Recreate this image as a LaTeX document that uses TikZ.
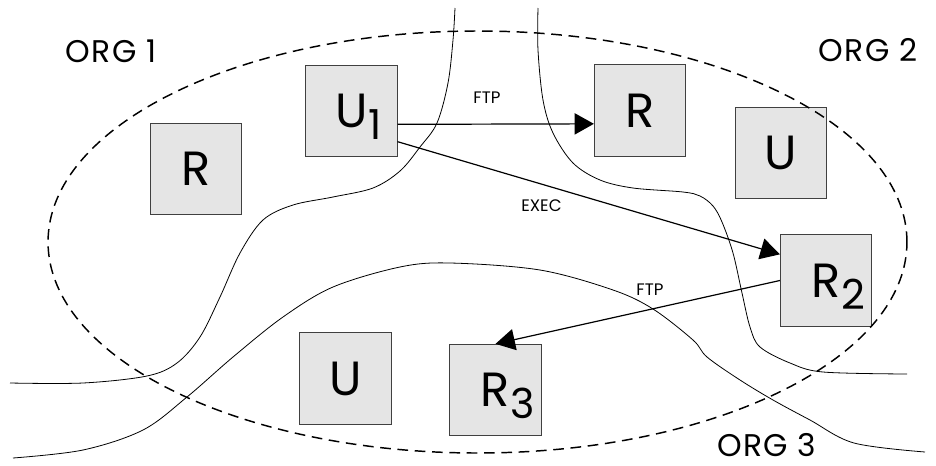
\documentclass[tikz,border=0pt]{standalone}
\usepackage{fontspec}
\setmainfont{Poppins}
\usetikzlibrary{arrows.meta}
% lowered, slightly smaller index after a host letter
\newcommand\hostsub[1]{\rlap{\smash{\kern0.5pt\raisebox{-9pt}{\fontsize{31}{31}\selectfont #1}}}}
\begin{document}
\begin{tikzpicture}[x=0.75pt,y=-0.75pt,
  host/.style={draw=black!75, fill=black!10, line width=0.6pt,
    minimum width=68.6pt, minimum height=68.6pt, inner sep=0pt,
    font=\fontsize{36}{36}\selectfont},
  org/.style={inner sep=0pt, font=\fontsize{23.5}{23.5}\selectfont\addfontfeature{LetterSpace=4}},
  proto/.style={font=\fontsize{12.5}{12.5}\selectfont},
  border/.style={line width=0.6pt},
  call/.style={line width=0.9pt, -{Triangle[length=14.5pt,width=16pt]}},
  zone/.style={line width=1.1pt, dash pattern=on 8pt off 5pt}]
\useasboundingbox (0,0) rectangle (936,465);

% hosts
\node[host] (rl) at (196,169)   {R};
\node[host] (u1) at (351.4,111) {U\hostsub{1}};
\node[host] (ro) at (640,110.5) {R};
\node[host] (uo) at (781,153)   {U};
\node[host] (r2) at (826,280.5) {R\hostsub{2}};
\node[host] (ub) at (345.6,378.5) {U};
\node[host] (r3) at (495.5,390) {R\hostsub{3}};

% organisation boundaries
\draw[border] plot[smooth, tension=0.55] coordinates {
  (10,383) (83,383) (147,376) (177,363) (200,337) (220,297) (240,253)
  (263,220) (293,205) (333,197) (373,188) (400,171) (420,147) (437,123)
  (448,83) (453,40) (455,8)};
\draw[border] plot[smooth, tension=0.55] coordinates {
  (538,8) (538,50) (543,100) (553,133) (573,163) (600,180) (633,188)
  (683,192) (700,196) (713,206) (722,222) (733,253) (742,293) (750,327)
  (760,347) (790,363) (823,372) (907,374)};
\draw[border] plot[smooth, tension=0.55] coordinates {
  (13,458) (83,450) (143,430) (187,397) (233,357) (283,317) (333,287)
  (400,267) (450,263) (540,270) (613,290) (653,309) (693,340) (707,357)
  (740,380) (773,400) (810,420) (854,443) (925,452)};

% outer domain
\draw[zone] (477.5,242) ellipse [x radius=322.1pt, y radius=158.25pt];

% organisation names
\node[org] (o1) at (111,51)  {ORG 1};
\node[org] (o2) at (868,50)  {ORG 2};
\node[org] (o3) at (767,445) {ORG 3};

% calls between hosts
\draw[call] ([yshift=-10pt]u1.east) -- ([yshift=-10pt]ro.west);
\draw[call] ([yshift=-23pt]u1.east) -- ([yshift=-15pt]r2.north west);
\draw[call] (r2.west) -- (r3.north);

\node[proto] (l1) at (487,98)    {FTP};
\node[proto] (l2) at (541.5,206) {EXEC};
\node[proto] (l3) at (650,290)   {FTP};
\end{tikzpicture}
\end{document}
